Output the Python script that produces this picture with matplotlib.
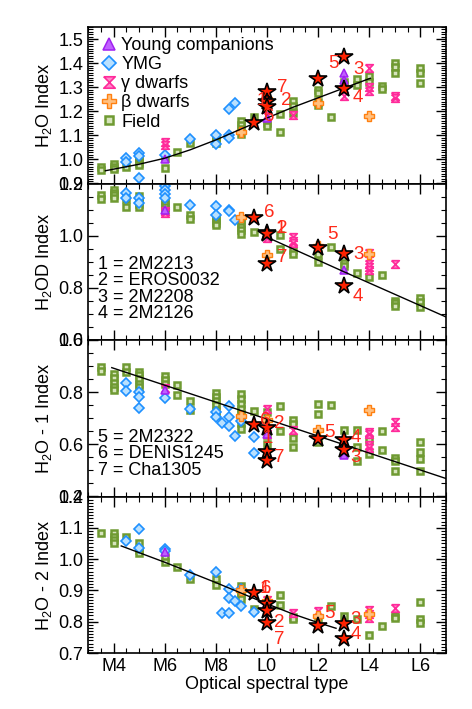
import numpy as np
import matplotlib.pyplot as plt
from matplotlib.ticker import MultipleLocator, FormatStrFormatter

plt.rcParams['font.family'] = ['Liberation Sans', 'DejaVu Sans']
plt.rcParams['mathtext.fontset'] = 'custom'
plt.rcParams['mathtext.rm'] = 'Liberation Sans'
plt.rcParams['mathtext.default'] = 'regular'

# spectral type: M0 = 0 ... L0 = 10
spt_ticks = [4, 6, 8, 10, 12, 14, 16]
spt_labels = ['M4', 'M6', 'M8', 'L0', 'L2', 'L4', 'L6']

# ---------------- H2O index ----------------
h2o_field = [(3.5, 0.968), (3.5, 0.955), (4, 0.98), (4, 0.968), (4, 0.962), (4.5, 0.97),
             (5, 1.005), (5, 0.995), (5, 0.985), (5, 0.975), (6, 1.005), (6, 0.966),
             (6.5, 1.03), (7, 1.067), (8, 1.095), (8, 1.081), (8, 1.07), (9, 1.16),
             (9, 1.142), (9, 1.125), (9, 1.106), (9.5, 1.178), (10, 1.15), (10, 1.14),
             (10.5, 1.189), (10.5, 1.115), (11, 1.244), (11, 1.222), (11, 1.194),
             (12, 1.288), (12, 1.274), (12, 1.24), (12, 1.226), (12.5, 1.178),
             (13, 1.323), (13, 1.31), (13.5, 1.334), (13.5, 1.311), (14, 1.348), (14, 1.323),
             (14.5, 1.305), (14.5, 1.291), (15, 1.402), (15, 1.382), (15, 1.361),
             (16, 1.378), (16, 1.36), (16, 1.316)]
h2o_ymg = [(4.5, 1.005), (4.5, 0.99), (5, 1.028), (5, 1.014), (5, 0.924), (6, 1.02),
           (7, 1.083), (8, 1.1), (8, 1.064), (8.5, 1.208), (8.5, 1.1), (8.5, 1.09),
           (8.75, 1.233)]
h2o_gamma = [(6, 1.074), (6, 1.058), (10, 1.18), (11, 1.184), (13, 1.262),
             (14, 1.378), (14, 1.3), (14, 1.285), (15, 1.263), (15, 1.254)]
h2o_beta = [(9, 1.115), (10, 1.25), (12, 1.236), (14, 1.18)]
h2o_young = [(6, 1.0), (10, 1.172), (13, 1.36), (13, 1.33)]
h2o_stars = [(9.5, 1.152), (10, 1.279), (10, 1.238), (10, 1.218), (12, 1.336),
             (13, 1.425), (13, 1.293)]
h2o_fit_x = [3.68, 5, 6, 7, 8, 9, 10, 11, 12, 13, 14.04]
h2o_fit_y = [0.953, 0.98, 1.005, 1.04, 1.081, 1.127, 1.172, 1.216, 1.256, 1.296, 1.337]
h2o_tags = [('5', 12.59, 1.40), ('3', 13.57, 1.373), ('4', 13.57, 1.256), ('7', 10.58, 1.30),
            ('2', 10.74, 1.246), ('1', 9.79, 1.246), ('6', 10.09, 1.177)]

# ---------------- H2OD index ----------------
h2od_field = [(3.5, 1.155), (3.5, 1.14), (4, 1.175), (4, 1.165), (4, 1.155), (4, 1.145),
              (4.5, 1.14), (4.5, 1.11), (5, 1.153), (5, 1.138), (5, 1.123), (5, 1.108),
              (6, 1.133), (6, 1.12), (6, 1.108), (6, 1.097), (6.5, 1.11), (7, 1.078),
              (7, 1.065), (8, 1.072), (8, 1.06), (8, 1.05), (8, 1.04), (9, 1.065),
              (9, 1.05), (9, 1.035), (9, 1.02), (9, 1.008), (9.5, 1.014), (10.5, 1.001),
              (10.5, 0.95), (11, 0.944), (11, 0.931), (12, 0.931), (12, 0.899),
              (12.5, 0.956), (13, 0.895), (13, 0.882), (13.5, 0.856), (14, 0.841),
              (14.5, 0.851), (15, 0.751), (15, 0.741), (15, 0.73), (16, 0.762),
              (16, 0.745), (16, 0.726)]
h2od_ymg = [(4.5, 1.164), (4.5, 1.145), (5, 1.145), (5, 1.126), (6, 1.19), (6, 1.175),
            (6, 1.16), (6, 1.145), (7, 1.117), (8, 1.113), (8, 1.078), (8.5, 1.1),
            (8.5, 1.095), (8.75, 1.059)]
h2od_gamma = [(6, 1.095), (6, 1.085), (10, 0.99), (11, 0.995), (11, 0.98), (11, 0.97),
              (14, 0.935), (14, 0.892), (14, 0.88), (14, 0.87), (15, 0.89)]
h2od_beta = [(9, 1.072), (10, 0.927), (12, 0.96), (14, 0.931)]
h2od_young = [(6, 1.1), (13, 0.87)]
h2od_stars = [(9.5, 1.068), (10, 1.012), (10, 1.005), (10, 0.89), (12, 0.954),
              (13, 0.931), (13, 0.806)]
h2od_fit_x = [9.98, 13, 17.03]
h2od_fit_y = [0.995, 0.862, 0.687]
h2od_tags = [('6', 10.09, 1.087), ('1', 10.55, 1.026), ('2', 10.6, 1.026), ('5', 12.57, 1.004),
             ('3', 13.57, 0.927), ('4', 13.57, 0.767), ('7', 10.61, 0.918)]
h2od_names = ['1 = 2M2213', '2 = EROS0032', '3 = 2M2208', '4 = 2M2126']

# ---------------- H2O-1 index ----------------
h2o1_field = [(3.5, 0.897), (3.5, 0.882), (4, 0.868), (4, 0.853), (4, 0.837), (4, 0.82),
              (4, 0.808), (4.5, 0.895), (4.5, 0.878), (5, 0.878), (5, 0.865), (5, 0.849),
              (5, 0.833), (5, 0.82), (6, 0.862), (6, 0.846), (6, 0.833), (6.5, 0.827),
              (6.5, 0.788), (7, 0.767), (7, 0.731), (8, 0.795), (8, 0.78), (8, 0.765),
              (8, 0.75), (8, 0.73), (8, 0.712), (9, 0.792), (9, 0.775), (9, 0.755),
              (9, 0.735), (9, 0.718), (9, 0.697), (9, 0.68), (9, 0.66), (9.5, 0.728),
              (10, 0.724), (10, 0.635), (10, 0.603), (10.5, 0.746), (10.5, 0.651),
              (11, 0.695), (11, 0.677), (11, 0.626), (11, 0.59), (12, 0.754), (12, 0.715),
              (12, 0.609), (12.5, 0.75), (13, 0.654), (13.5, 0.654), (13.5, 0.59),
              (13.5, 0.536), (14, 0.618), (14, 0.564), (14.5, 0.651), (14.5, 0.58),
              (15, 0.549), (15, 0.536), (15, 0.496), (16, 0.609), (16, 0.571),
              (16, 0.545), (16, 0.496)]
h2o1_ymg = [(4.5, 0.837), (4.5, 0.805), (5, 0.8), (5, 0.782), (5, 0.741), (6, 0.778),
            (7, 0.737), (8, 0.724), (8, 0.703), (8.25, 0.68), (8.5, 0.746), (8.5, 0.705),
            (8.5, 0.669), (8.75, 0.632), (9, 0.69), (9.5, 0.628), (9.5, 0.568)]
h2o1_gamma = [(6, 0.815), (10, 0.737), (10, 0.641), (11, 0.656), (14, 0.647), (14, 0.638),
              (14, 0.596), (14, 0.587), (15, 0.686), (15, 0.667)]
h2o1_beta = [(9, 0.708), (10, 0.695), (12, 0.656), (14, 0.733)]
h2o1_young = [(6, 0.808), (10, 0.64), (13, 0.558)]
h2o1_stars = [(9.5, 0.673), (10, 0.662), (10, 0.572), (10, 0.535), (12, 0.622),
              (13, 0.615), (13, 0.577)]
h2o1_fit_x = [3.93, 17.03]
h2o1_fit_y = [0.894, 0.468]
h2o1_tags = [('6', 9.92, 0.692), ('2', 10.48, 0.679), ('1', 10.05, 0.622), ('7', 10.48, 0.551),
             ('5', 12.46, 0.644), ('4', 13.47, 0.628), ('3', 13.47, 0.551)]
h2o1_names = ['5 = 2M2322', '6 = DENIS1245', '7 = Cha1305']

# ---------------- H2O-2 index ----------------
h2o2_field = [(3.5, 1.082), (4, 1.082), (4, 1.072), (4, 1.061), (4, 1.05), (4.5, 1.072),
              (5, 1.05), (5, 1.029), (5, 1.018), (6, 1.008), (6, 0.992), (6.5, 0.976),
              (7, 0.938), (8, 0.938), (8, 0.917), (9, 0.914), (9, 0.899), (9, 0.885),
              (9, 0.874), (9.5, 0.842), (10, 0.86), (10.5, 0.885), (10.5, 0.853),
              (11, 0.815), (11, 0.808), (12, 0.811), (12.5, 0.851), (13, 0.818),
              (13.5, 0.808), (14, 0.758), (14.5, 0.787), (15, 0.818), (15, 0.813),
              (16, 0.863), (16, 0.808), (16, 0.796)]
h2o2_ymg = [(4.5, 1.058), (5, 1.095), (5, 1.035), (6, 1.031), (6, 1.027), (7, 0.949),
            (8, 0.96), (8.25, 0.829), (8.5, 0.904), (8.5, 0.875), (8.5, 0.829),
            (8.75, 0.867), (9, 0.849), (9, 0.905), (9.5, 0.83)]
h2o2_gamma = [(10, 0.869), (11, 0.829), (12, 0.835), (14, 0.838), (14, 0.824),
              (14, 0.811), (15, 0.845)]
h2o2_beta = [(9, 0.9), (10, 0.865), (12, 0.818), (14, 0.824)]
h2o2_young = [(6, 1.024), (10, 0.86)]
h2o2_stars = [(9.5, 0.893), (10, 0.856), (10, 0.835), (10, 0.797), (12, 0.787),
              (13, 0.792), (13, 0.744)]
h2o2_fit_x = [4.3, 6, 8, 10, 11, 12, 12.7]
h2o2_fit_y = [1.042, 0.99, 0.925, 0.857, 0.825, 0.797, 0.779]
h2o2_tags = [('6', 9.96, 0.907), ('1', 9.93, 0.905), ('5', 12.46, 0.826), ('3', 13.47, 0.808),
             ('2', 10.48, 0.797), ('7', 10.48, 0.744), ('4', 13.47, 0.758)]

# ---------------- styles ----------------
hourglass = [(-1, 1), (1, 1), (-1, -1), (1, -1), (-1, 1)]
styles = {
    'young': dict(marker='^', ms=6, mfc='#c060ff', mec='#a020f0', mew=1.1),
    'ymg': dict(marker='D', ms=4.6, mfc='#b8e0ff', mec='#1e90ff', mew=1.2),
    'gamma': dict(marker=hourglass, ms=5.5, mfc='#ff88c8', mec='#ff2a9a', mew=1.2),
    'beta': dict(marker='P', ms=6.5, mfc='#ffc080', mec='#ff8010', mew=1.0),
    'field': dict(marker='s', ms=4.3, mfc='#d6e4bc', mec='#6f9a32', mew=1.8),
}
star_style = dict(marker='*', ms=13, mfc='#ff2200', mec='black', mew=1.2)
tag_color = '#ff2a1a'

panels = [
    dict(field=h2o_field, ymg=h2o_ymg, gamma=h2o_gamma, beta=h2o_beta, young=h2o_young,
         stars=h2o_stars, fx=h2o_fit_x, fy=h2o_fit_y, tags=h2o_tags,
         ylabel='H$_2$O Index', ylim=(0.9, 1.55), major=0.1, minor=0.01),
    dict(field=h2od_field, ymg=h2od_ymg, gamma=h2od_gamma, beta=h2od_beta, young=h2od_young,
         stars=h2od_stars, fx=h2od_fit_x, fy=h2od_fit_y, tags=h2od_tags,
         ylabel='H$_2$OD Index', ylim=(0.6, 1.2), major=0.2, minor=0.05),
    dict(field=h2o1_field, ymg=h2o1_ymg, gamma=h2o1_gamma, beta=h2o1_beta, young=h2o1_young,
         stars=h2o1_stars, fx=h2o1_fit_x, fy=h2o1_fit_y, tags=h2o1_tags,
         ylabel='H$_2$O - 1 Index', ylim=(0.4, 1.0), major=0.2, minor=0.05),
    dict(field=h2o2_field, ymg=h2o2_ymg, gamma=h2o2_gamma, beta=h2o2_beta, young=h2o2_young,
         stars=h2o2_stars, fx=h2o2_fit_x, fy=h2o2_fit_y, tags=h2o2_tags,
         ylabel='H$_2$O - 2 Index', ylim=(0.7, 1.2), major=0.1, minor=0.01),
]

fig = plt.figure(figsize=(4.72, 7.09), dpi=100)
left, width = 88 / 472, 358 / 472
top, ph = 1 - 27 / 709, 156.5 / 709

axes = []
for i, p in enumerate(panels):
    ax = fig.add_axes([left, top - (i + 1) * ph, width, ph])
    axes.append(ax)
    for key in ['field', 'ymg', 'gamma', 'beta', 'young']:
        pts = np.array(p[key])
        ax.plot(pts[:, 0], pts[:, 1], ls='none', **styles[key])
    ax.plot(p['fx'], p['fy'], color='black', lw=1.0)
    st = np.array(p['stars'])
    ax.plot(st[:, 0], st[:, 1], ls='none', **star_style)
    for t, tx, ty in p['tags']:
        ax.text(tx, ty, t, color=tag_color, fontsize=13.5, ha='center', va='center')

    ax.set_xlim(3, 17)
    ax.set_ylim(*p['ylim'])
    ax.xaxis.set_major_locator(MultipleLocator(2))
    ax.xaxis.set_minor_locator(MultipleLocator(0.5))
    ax.yaxis.set_major_locator(MultipleLocator(p['major']))
    ax.yaxis.set_minor_locator(MultipleLocator(p['minor']))
    ax.yaxis.set_major_formatter(FormatStrFormatter('%.1f'))
    ax.tick_params(which='both', direction='in', top=True, right=True, labelsize=13)
    ax.tick_params(which='major', length=7, width=1)
    ax.tick_params(which='minor', length=3.5, width=0.8)
    ax.set_ylabel(p['ylabel'], fontsize=13, labelpad=3)
    for s in ax.spines.values():
        s.set_linewidth(1.2)
    if i < 3:
        ax.tick_params(labelbottom=False)
    else:
        ax.set_xticks(spt_ticks)
        ax.set_xticklabels(spt_labels)
        ax.set_xlabel('Optical spectral type', fontsize=13, labelpad=1)

# legend in the first panel
names = ['Young companions', 'YMG', 'γ dwarfs', 'β dwarfs', 'Field']
handles = [plt.Line2D([], [], ls='none', **styles[k])
           for k in ['young', 'ymg', 'gamma', 'beta', 'field']]
axes[0].legend(handles, names, loc='upper left', frameon=False, fontsize=13,
               markerscale=1.5, handletextpad=0.1, labelspacing=0.12,
               borderaxespad=0.15, handlelength=1.2)

for j, txt in enumerate(h2od_names):
    axes[1].text(0.028, 0.48 - j * 0.103, txt, transform=axes[1].transAxes,
                 fontsize=13, va='center', ha='left')
for j, txt in enumerate(h2o1_names):
    axes[2].text(0.028, 0.38 - j * 0.106, txt, transform=axes[2].transAxes,
                 fontsize=13, va='center', ha='left')

fig.savefig('out.png', dpi=100)
